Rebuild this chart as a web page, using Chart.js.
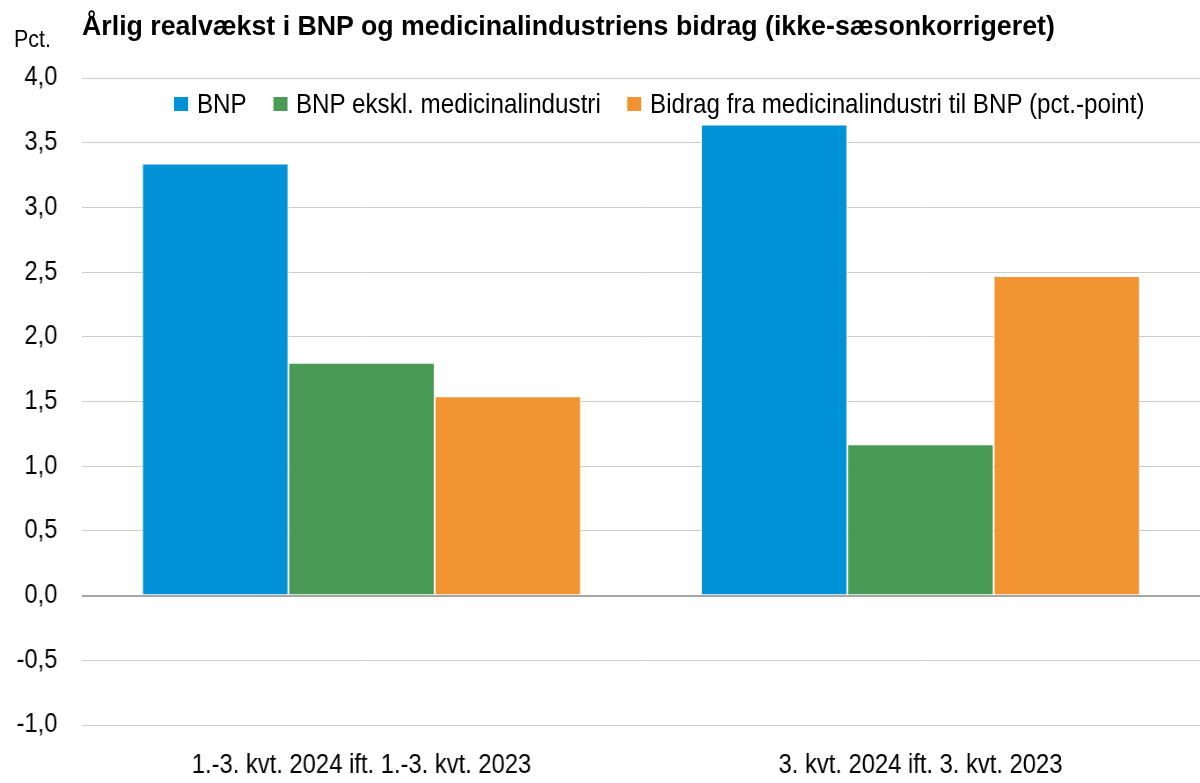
<!DOCTYPE html>
<html>
<head>
<meta charset="utf-8">
<script src="https://cdn.jsdelivr.net/npm/chart.js@4"></script>
<style>
  body { margin: 0; background: #fff; }
  #wrap { position: relative; width: 1200px; height: 783px; overflow: hidden; }
  #chart { position: absolute; left: 0; top: 0; }
  .txt { position: absolute; font-family: 'Liberation Sans', Arial, sans-serif; color: #000;
         white-space: nowrap; line-height: 1; transform-origin: left top; }
  #title { left: 82px; top: 12px; font-weight: bold; font-size: 28px; transform: scaleX(0.955); }
  #unit { left: 14px; top: 28px; font-size: 23px; transform: scaleX(0.93); }
  #legend { left: 174px; top: 90px; font-size: 27.5px; display: flex; align-items: center;
            transform: scaleX(0.88); }
  #legend .item { display: flex; align-items: center; margin-right: 30px; }
  #legend .box { width: 16px; height: 14px; margin-right: 10px; }
</style>
</head>
<body>
<div id="wrap">
  <canvas id="chart" width="1364" height="783" style="width:1200px;height:783px"></canvas>
  <div id="title" class="txt">Årlig realvækst i BNP og medicinalindustriens bidrag (ikke-sæsonkorrigeret)</div>
  <div id="unit" class="txt">Pct.</div>
  <div id="legend" class="txt"></div>
</div>
<script>
// Categories and series (pct.)
const categories = ['1.-3. kvt. 2024 ift. 1.-3. kvt. 2023', '3. kvt. 2024 ift. 3. kvt. 2023'];
const bnp = [3.34, 3.64];
const bnpEkskl = [1.80, 1.17];
const bidrag = [1.54, 2.47];
const seriesNames = ['BNP', 'BNP ekskl. medicinalindustri', 'Bidrag fra medicinalindustri til BNP (pct.-point)'];
const seriesColors = ['#0091d6', '#489a54', '#f39433'];

// canvas is drawn wider and squeezed to 1200px to mimic the narrow font
const squeeze = 1200 / 1364;

Chart.defaults.font.family = "'Liberation Sans', Arial, sans-serif";
Chart.defaults.color = '#000';

const ctx = document.getElementById('chart').getContext('2d');
const chart = new Chart(ctx, {
    type: 'bar',
    data: {
        labels: categories,
        datasets: [bnp, bnpEkskl, bidrag].map((values, i) => ({
            label: seriesNames[i],
            data: values,
            backgroundColor: seriesColors[i],
            borderColor: '#fff',
            borderWidth: 1,
            borderSkipped: 'bottom',
            categoryPercentage: 0.785,
            barPercentage: 1
        }))
    },
    options: {
        responsive: false,
        animation: false,
        devicePixelRatio: 1,
        layout: { padding: { top: 78, right: 0, left: 0, bottom: 0 } },
        plugins: {
            legend: { display: false },
            tooltip: { enabled: false }
        },
        scales: {
            x: {
                grid: { display: false },
                border: { display: false },
                ticks: { font: { size: 27 }, padding: 16 },
                afterFit: axis => { axis.height = 58; }
            },
            y: {
                min: -1,
                max: 4,
                border: { display: false },
                grid: {
                    color: c => c.tick.value === 0 ? '#a6a6a6' : '#cccccc',
                    lineWidth: c => c.tick.value === 0 ? 2 : 1,
                    drawTicks: false
                },
                ticks: {
                    stepSize: 0.5,
                    font: { size: 27 },
                    padding: 28,
                    callback: v => v.toFixed(1).replace('.', ',')
                },
                afterFit: axis => { axis.width = 82 / squeeze; }
            }
        }
    }
});

// Legend built from the chart's datasets
const legend = document.getElementById('legend');
chart.data.datasets.forEach(ds => {
    const item = document.createElement('div');
    item.className = 'item';
    item.innerHTML = `<span class="box" style="background:${ds.backgroundColor}"></span><span>${ds.label}</span>`;
    legend.appendChild(item);
});
</script>
</body>
</html>
